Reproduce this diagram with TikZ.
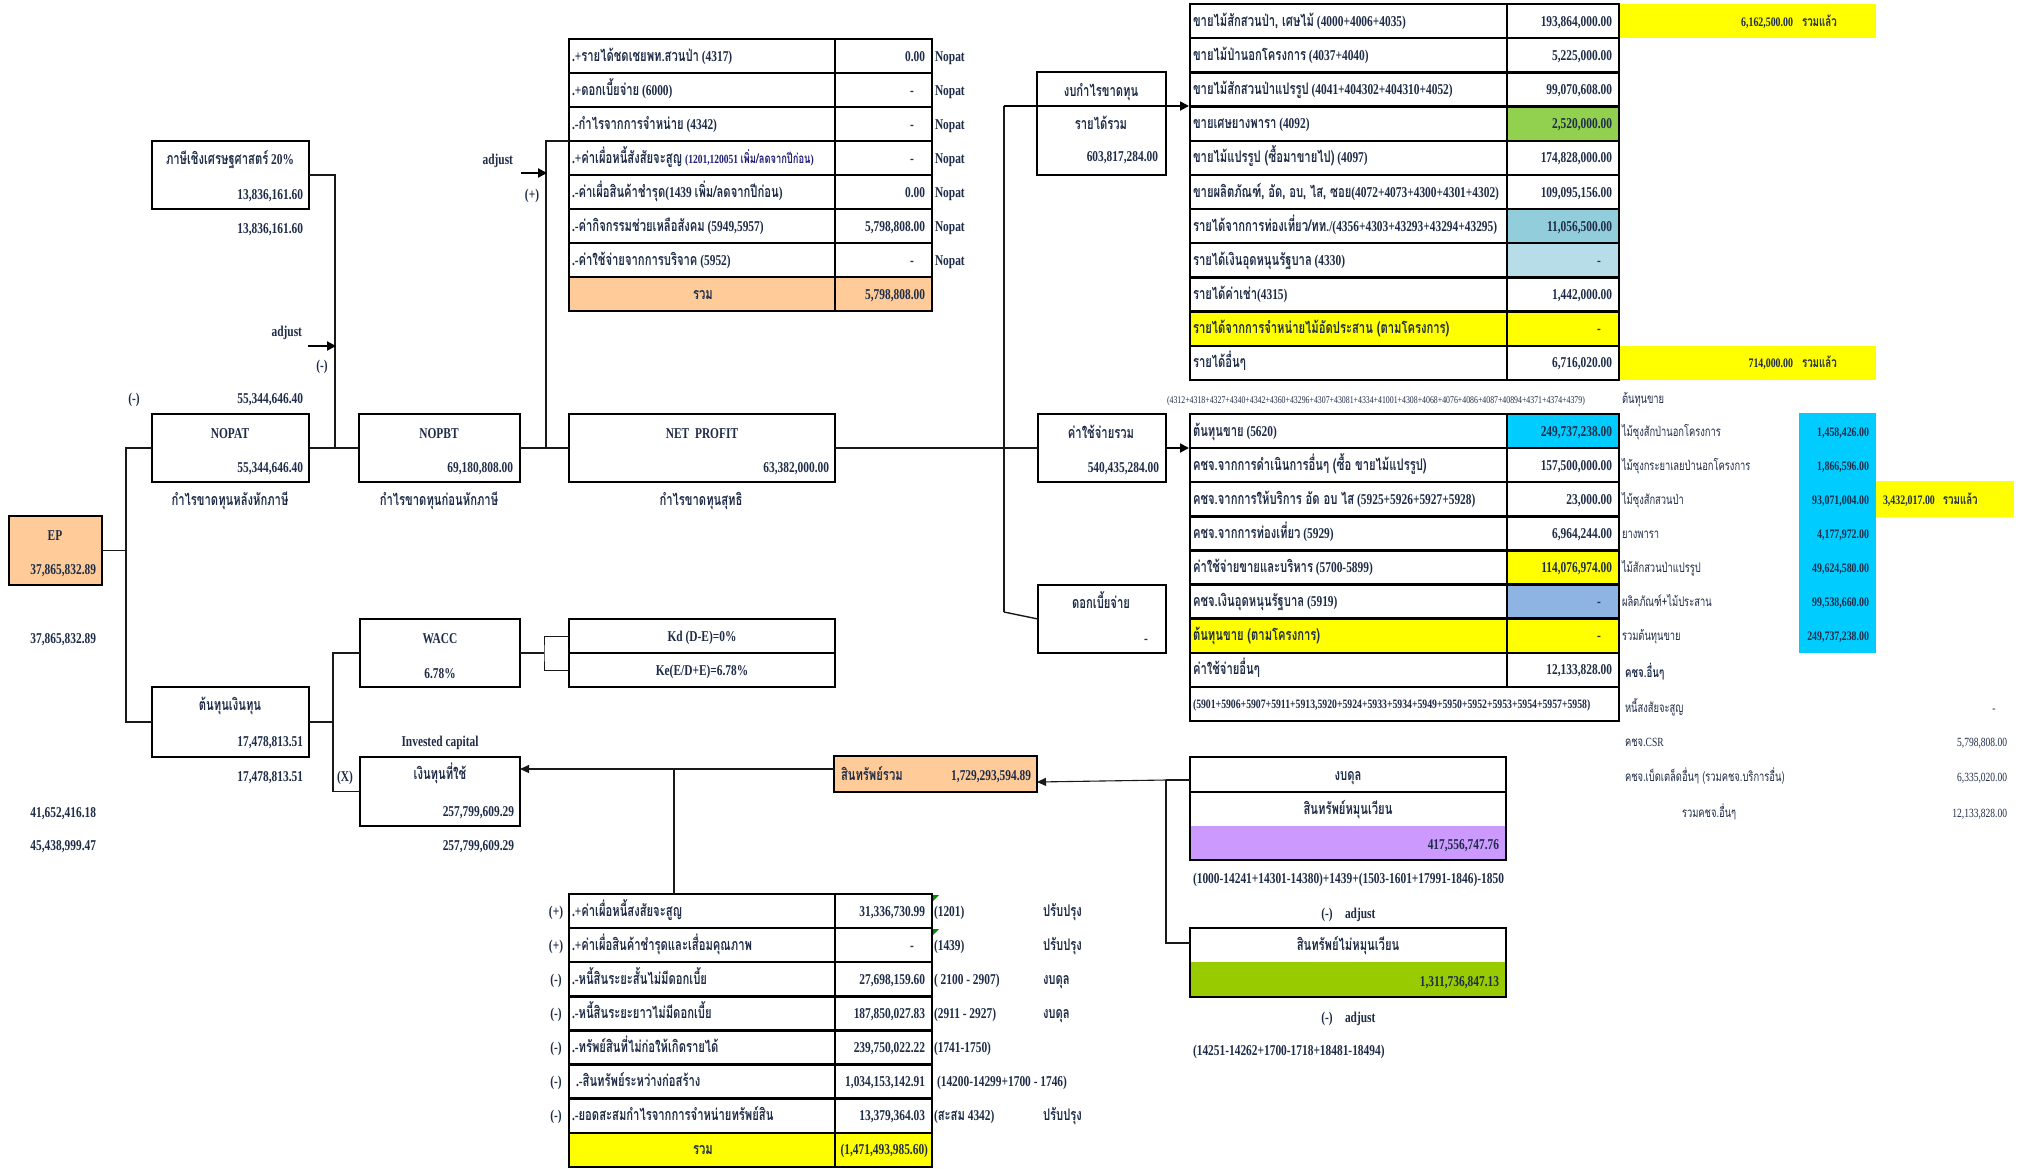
\documentclass[tikz,border=0pt]{standalone}
\usepackage{fontspec}
\setmainfont{Liberation Serif}[FakeStretch=0.76]
\newfontfamily\thaifont{Loma}[Script=Thai,FakeStretch=0.7,Scale=1.07]
\usetikzlibrary{arrows.meta}
\newcommand\T[1]{{\thaifont #1}}
\definecolor{textc}{RGB}{30,44,72}
\definecolor{blueT}{RGB}{30,30,120}
\definecolor{peach}{HTML}{FFCC99}
\definecolor{greenA}{HTML}{92D050}
\definecolor{tealA}{HTML}{92CDDC}
\definecolor{lblueA}{HTML}{B7DEE8}
\definecolor{yel}{HTML}{FFFF00}
\definecolor{cyanA}{HTML}{00CCFF}
\definecolor{bgray}{HTML}{8DB4E2}
\definecolor{purp}{HTML}{CC99FF}
\definecolor{greenB}{HTML}{99CC00}
\begin{document}
\begin{tikzpicture}[x=1pt,y=-1pt,
  every node/.style={inner sep=0pt,outer sep=0pt,text=textc,font=\bfseries\fontsize{15}{18}\selectfont},
  L/.style={anchor=base west}, R/.style={anchor=base east}, C/.style={anchor=base},
  sm/.style={font=\bfseries\fontsize{13}{15}\selectfont},
  rg/.style={font=\fontsize{12.5}{15}\selectfont},
  bx/.style={draw=black,line width=2pt,anchor=north west},
  tb/.style={draw=black,line width=2.4pt},
  cn/.style={draw=black!90,line width=1.4pt},
  ar/.style={cn,-{Triangle[length=9pt,width=8pt]}},
  ar2/.style={draw=black,line width=2.2pt,-{Triangle[length=9pt,width=9pt]}},
]
\useasboundingbox[fill=white] (0,0) rectangle (2031,1168);

% ================= boxes =================
\node[bx,minimum width=157,minimum height=68] (tax) at (152,141) {};
\node[bx,minimum width=157,minimum height=68] (nopat) at (152,414) {};
\node[bx,minimum width=161,minimum height=68] (nopbt) at (359,414) {};
\node[bx,minimum width=266,minimum height=68] (np) at (569,414) {};
\node[bx,minimum width=129,minimum height=103] (rev) at (1037,72) {};
\node[bx,minimum width=128,minimum height=68] (exp) at (1038,414) {};
\node[bx,minimum width=128,minimum height=68] (int) at (1038,585) {};
\node[bx,fill=peach,minimum width=93,minimum height=69] (ep) at (9,516) {};
\node[bx,minimum width=157,minimum height=70] (coc) at (152,687) {};
\node[bx,minimum width=160,minimum height=68] (wacc) at (360,619) {};
\node[bx,minimum width=266,minimum height=34] (kd1) at (569,619) {};
\node[bx,minimum width=266,minimum height=34] (kd2) at (569,653) {};
\node[bx,minimum width=160,minimum height=69] (ic) at (360,757) {};
\node[bx,fill=peach,line width=2.6pt,minimum width=203,minimum height=36] (ta) at (834,756) {};
\fill[purp] (1190,826) rectangle (1506,860);
\node[bx,minimum width=316,minimum height=35] (bs1) at (1190,757) {};
\draw[tb,line width=2pt] (1190,792) -- (1190,860) -- (1506,860) -- (1506,792);
\coordinate (bs2) at (1348,809);
\fill[greenB] (1190,962) rectangle (1506,997);
\draw[tb,line width=2pt] (1190,928) rectangle (1506,997);
\coordinate (nca) at (1348,945);

% ================= table T1 =================
\fill[peach] (569,277) rectangle (932,311);
\draw[tb] (569,39) rectangle (932,311);
\foreach \yy in {73,107,141,175,209,243,277} \draw[tb] (569,\yy) -- (932,\yy);
\draw[tb] (835,39) -- (835,311);

% ================= table T2 =================
\fill[greenA] (1507,106.54) rectangle (1619,140.72);
\fill[tealA] (1507,209.08) rectangle (1619,243.26);
\fill[lblueA] (1507,243.26) rectangle (1619,277.44);
\fill[yel] (1190,311.62) rectangle (1619,345.8);
\fill[yel] (1619,4) rectangle (1876,38.18);
\fill[yel] (1619,345.8) rectangle (1876,379.98);
\draw[tb] (1190,4) rectangle (1619,379.98);
\foreach \k in {1,...,10} \draw[tb] (1190,{4+\k*34.18}) -- (1619,{4+\k*34.18});
\draw[tb] (1507,4) -- (1507,379.98);

% ================= table T3 =================
\fill[cyanA] (1507,414) rectangle (1619,448.1);
\fill[yel] (1507,550.4) rectangle (1619,584.5);
\fill[bgray] (1507,584.5) rectangle (1619,618.6);
\fill[yel] (1190,618.6) rectangle (1619,652.7);
\fill[cyanA] (1799,413) rectangle (1876,653);
\fill[yel] (1876,481) rectangle (2014,517);
\draw[tb] (1190,414) rectangle (1619,720.9);
\foreach \k in {1,...,8} \draw[tb] (1190,{414+\k*34.1}) -- (1619,{414+\k*34.1});
\draw[tb] (1507,414) -- (1507,686.8);

% ================= table T4 =================
\fill[yel] (569,1132.7) rectangle (932,1166.8);
\draw[tb] (569,894) rectangle (932,1166.8);
\foreach \k in {1,...,7} \draw[tb] (569,{894+\k*34.1}) -- (932,{894+\k*34.1});
\draw[tb] (835,894) -- (835,1166.8);
\fill[green!55!black] (933,895) -- (939,895) -- (933,901) -- cycle;
\fill[green!55!black] (933,929) -- (939,929) -- (933,935) -- cycle;

% ================= connectors =================
\coordinate (j1) at (335,448);
\draw[cn] (tax.east) -| (j1);
\draw[cn] (nopat.east) -- (nopbt.west);
\coordinate (adjA) at (308,346);
\coordinate (adjB) at (336,346);
\draw[ar2] (adjA) -- (adjB);
\coordinate (j2) at (546,448);
\coordinate (t1in) at (569,141);
\draw[cn] (nopbt.east) -- (np.west);
\draw[cn] (j2) |- (t1in);
\coordinate (adjC) at (521,173);
\coordinate (adjD) at (547,173);
\draw[ar2] (adjC) -- (adjD);
\coordinate (v1top) at (1004,106);
\coordinate (v1bot) at (1004,612);
\coordinate (t2in) at (1189,106);
\coordinate (t3in) at (1189,448);
\draw[cn] (np.east) -- (exp.west);
\draw[cn] (v1top) -- (v1bot);
\draw[cn] (v1bot) -- (int.west);
\draw[ar2,line width=1.8pt] (v1top) -- (t2in);
\draw[ar2,line width=1.8pt] (exp.east) -- (t3in);
\coordinate (j3b) at (126,722);
\draw[cn] (nopat.west) -| (j3b) -- (coc.west);
\draw[cn] (ep.east) -- (ep.east -| j3b);
\coordinate (j4) at (333,722);
\draw[cn] (coc.east) -- (j4);
\draw[cn] (wacc.west) -| (j4) |- (ic.west);
\coordinate (j5) at (544,653);
\draw[cn] (wacc.east) -- (j5);
\draw[cn,line width=1pt] (kd1.west) -| (j5) |- (kd2.west);
\coordinate (j6) at (1166,780);
\coordinate (bsL) at (1190,780);
\coordinate (taR) at (1037,782);
\coordinate (ncaL) at (1190,943);
\draw[cn,line width=1.1pt] (bsL) -- (j6);
\draw[ar,line width=1.1pt] (j6) -- (taR);
\draw[cn,line width=1.1pt] (j6) |- (ncaL);
\coordinate (taL) at (834,769);
\coordinate (icR) at (520,769);
\coordinate (j7) at (674,769);
\coordinate (t4top) at (674,894);
\draw[ar,line width=1.1pt] (taL) -- (icR);
\draw[cn,line width=1.1pt] (j7) -- (t4top);

% ================= left texts =================
\node[C] (taxT) at (230,164) {\T{ภาษีเชิงเศรษฐศาสตร์} 20\%};
\node[R] (taxV) at (303,199) {13,836,161.60};
\node[R] (taxV2) at (303,233) {13,836,161.60};
\node[R] (adj1) at (302,336) {adjust};
\node[C] (mn1) at (322,370) {(-)};
\node[C] (mn2) at (134,403) {(-)};
\node[R] (nopatV0) at (303,403) {55,344,646.40};
\node[C] (nopatT) at (230,438) {NOPAT};
\node[R] (nopatV) at (303,472) {55,344,646.40};
\node[C] (nopatC) at (230,505) {\T{กำไรขาดทุนหลังหักภาษี}};
\node[C] (nopbtT) at (439,438) {NOPBT};
\node[R] (nopbtV) at (513,472) {69,180,808.00};
\node[C] (nopbtC) at (439,505) {\T{กำไรขาดทุนก่อนหักภาษี}};
\node[C] (npT) at (702,438) {NET\ \ PROFIT};
\node[R] (npV) at (829,472) {63,382,000.00};
\node[C] (npC) at (701,505) {\T{กำไรขาดทุนสุทธิ}};
\node[R] (adj2) at (513,164) {adjust};
\node[C] (pl1) at (532,199) {(+)};
\node[C] (revT) at (1101,96) {\T{งบกำไรขาดทุน}};
\node[C] (revT2) at (1101,129) {\T{รายได้รวม}};
\node[R] (revV) at (1158,161) {603,817,284.00};
\node[C] (expT) at (1101,438) {\T{ค่าใช้จ่ายรวม}};
\node[R] (expV) at (1159,472) {540,435,284.00};
\node[C] (intT) at (1101,608) {\T{ดอกเบี้ยจ่าย}};
\node[C] (intV) at (1146,643) {-};
\node[C] (epT) at (55,540) {EP};
\node[R] (epV) at (96,574) {37,865,832.89};
\node[R] (epV2) at (96,643) {37,865,832.89};
\node[R] (n41) at (96,817) {41,652,416.18};
\node[R] (n45) at (96,850) {45,438,999.47};
\node[C] (cocT) at (230,710) {\T{ต้นทุนเงินทุน}};
\node[R] (cocV) at (303,746) {17,478,813.51};
\node[R] (cocV2) at (303,781) {17,478,813.51};
\node[C] (waccT) at (440,643) {WACC};
\node[C] (waccV) at (440,678) {6.78\%};
\node[C] (invT) at (440,746) {Invested capital};
\node[C] (icT) at (440,779) {\T{เงินทุนที่ใช้}};
\node[R] (icV) at (514,816) {257,799,609.29};
\node[R] (icV2) at (514,850) {257,799,609.29};
\node[C] (xx) at (345,781) {(X)};
\node[C] (kdT) at (702,641) {Kd (D-E)=0\%};
\node[C] (keT) at (702,675) {Ke(E/D+E)=6.78\%};
\node[L] (taT) at (841,780) {\T{สินทรัพย์รวม}};
\node[R] (taV) at (1031,780) {1,729,293,594.89};
\node[C] (bsT) at (1348,780) {\T{งบดุล}};
\node[C] (caT) at (1348,814) {\T{สินทรัพย์หมุนเวียน}};
\node[R] (caV) at (1499,849) {417,556,747.76};
\node[L] (caF) at (1193,883) {(1000-14241+14301-14380)+1439+(1503-1601+17991-1846)-1850};
\node[C] (mn3) at (1327,918) {(-)};
\node[L] (adj3) at (1345,918) {adjust};
\node[C] (ncaT) at (1348,950) {\T{สินทรัพย์ไม่หมุนเวียน}};
\node[R] (ncaV) at (1499,986) {1,311,736,847.13};
\node[C] (mn4) at (1327,1022) {(-)};
\node[L] (adj4) at (1345,1022) {adjust};
\node[L] (ncaF) at (1193,1055) {(14251-14262+1700-1718+18481-18494)};

% ================= T1 texts =================
\node[L] (a1) at (572,61) {.+\T{รายได้ชดเชยพท.สวนป่า} (4317)};
\node[L] (a2) at (572,95) {.+\T{ดอกเบี้ยจ่าย} (6000)};
\node[L] (a3) at (572,129) {.-\T{กำไรจากการจำหน่าย} (4342)};
\node[L] (a4) at (572,163) {.+\T{ค่าเผื่อหนี้สังสัยจะสูญ} {\color{blueT}\fontsize{12.5}{14}\selectfont (1201,120051 \T{เพิ่ม/ลดจากปีก่อน})}};
\node[L] (a5) at (572,197) {.-\T{ค่าเผื่อสินค้าชำรุด}(1439 \T{เพิ่ม/ลดจากปีก่อน})};
\node[L] (a6) at (572,231) {.-\T{ค่ากิจกรรมช่วยเหลือสังคม} (5949,5957)};
\node[L] (a7) at (572,265) {.-\T{ค่าใช้จ่ายจากการบริจาค} (5952)};
\node[C] (a8) at (703,299) {\T{รวม}};
\node[R] (b1) at (925,61) {0.00};
\node[C] (b2) at (912,95) {-};
\node[C] (b3) at (912,129) {-};
\node[C] (b4) at (912,163) {-};
\node[R] (b5) at (925,197) {0.00};
\node[R] (b6) at (925,231) {5,798,808.00};
\node[C] (b7) at (912,265) {-};
\node[R] (b8) at (925,299) {5,798,808.00};
\node[L] (c1) at (935,61) {Nopat};
\node[L] (c2) at (935,95) {Nopat};
\node[L] (c3) at (935,129) {Nopat};
\node[L] (c4) at (935,163) {Nopat};
\node[L] (c5) at (935,197) {Nopat};
\node[L] (c6) at (935,231) {Nopat};
\node[L] (c7) at (935,265) {Nopat};

% ================= T2 texts =================
\node[L] (d1) at (1193,26.1) {\T{ขายไม้สักสวนป่า, เศษไม้} (4000+4006+4035)};
\node[L] (d2) at (1193,60.3) {\T{ขายไม้ป่านอกโครงการ} (4037+4040)};
\node[L] (d3) at (1193,94.5) {\T{ขายไม้สักสวนป่าแปรรูป} (4041+404302+404310+4052)};
\node[L] (d4) at (1193,128.6) {\T{ขายเศษยางพารา} (4092)};
\node[L] (d5) at (1193,162.8) {\T{ขายไม้แปรรูป (ซื้อมาขายไป)} (4097)};
\node[L] (d6) at (1193,197.0) {\T{ขายผลิตภัณฑ์, อัด, อบ, ไส, ซอย}(4072+4073+4300+4301+4302)};
\node[L] (d7) at (1193,231.2) {\T{รายได้จากการท่องเที่ยว/ทท.}/(4356+4303+43293+43294+43295)};
\node[L] (d8) at (1193,265.4) {\T{รายได้เงินอุดหนุนรัฐบาล} (4330)};
\node[L] (d9) at (1193,299.5) {\T{รายได้ค่าเช่า}(4315)};
\node[L] (d10) at (1193,333.7) {\T{รายได้จากการจำหน่ายไม้อัดประสาน (ตามโครงการ)}};
\node[L] (d11) at (1193,367.9) {\T{รายได้อื่นๆ}};
\node[R] (e1) at (1612,26.1) {193,864,000.00};
\node[R] (e2) at (1612,60.3) {5,225,000.00};
\node[R] (e3) at (1612,94.5) {99,070,608.00};
\node[R] (e4) at (1612,128.6) {2,520,000.00};
\node[R] (e5) at (1612,162.8) {174,828,000.00};
\node[R] (e6) at (1612,197.0) {109,095,156.00};
\node[R] (e7) at (1612,231.2) {11,056,500.00};
\node[C] (e8) at (1599,265.4) {-};
\node[R] (e9) at (1612,299.5) {1,442,000.00};
\node[C] (e10) at (1599,333.7) {-};
\node[R] (e11) at (1612,367.9) {6,716,020.00};
\node[R,sm] (f1) at (1793,26.1) {6,162,500.00};
\node[L,sm] (f1b) at (1802,26.1) {\T{รวมแล้ว}};
\node[R,sm] (f2) at (1793,367.9) {714,000.00};
\node[L,sm] (f2b) at (1802,367.9) {\T{รวมแล้ว}};

% ================= T3 texts =================
\node[L,font=\fontsize{10.3}{12}\selectfont] (g0) at (1167,403) {(4312+4318+4327+4340+4342+4360+43296+4307+43081+4334+41001+4308+4068+4076+4086+4087+40894+4371+4374+4379)};
\node[L,rg] (g0b) at (1622,403) {\T{ต้นทุนขาย}};
\node[L] (h1) at (1193,436.1) {\T{ต้นทุนขาย} (5620)};
\node[L] (h2) at (1193,470.2) {\T{คชจ.จากการดำเนินการอื่นๆ (ซื้อ ขายไม้แปรรูป)}};
\node[L] (h3) at (1193,504.3) {\T{คชจ.จากการให้บริการ อัด อบ ไส} (5925+5926+5927+5928)};
\node[L] (h4) at (1193,538.4) {\T{คชจ.จากการท่องเที่ยว} (5929)};
\node[L] (h5) at (1193,572.5) {\T{ค่าใช้จ่ายขายและบริหาร} (5700-5899)};
\node[L] (h6) at (1193,606.6) {\T{คชจ.เงินอุดหนุนรัฐบาล} (5919)};
\node[L] (h7) at (1193,640.7) {\T{ต้นทุนขาย (ตามโครงการ)}};
\node[L] (h8) at (1193,674.8) {\T{ค่าใช้จ่ายอื่นๆ}};
\node[L,font=\bfseries\fontsize{12.8}{15}\selectfont] (h9) at (1193,708.9) {(5901+5906+5907+5911+5913,5920+5924+5933+5934+5949+5950+5952+5953+5954+5957+5958)};
\node[R] (k1) at (1612,436.1) {249,737,238.00};
\node[R] (k2) at (1612,470.2) {157,500,000.00};
\node[R] (k3) at (1612,504.3) {23,000.00};
\node[R] (k4) at (1612,538.4) {6,964,244.00};
\node[R] (k5) at (1612,572.5) {114,076,974.00};
\node[C] (k6) at (1599,606.6) {-};
\node[C] (k7) at (1599,640.7) {-};
\node[R] (k8) at (1612,674.8) {12,133,828.00};
\node[L,rg] (m1) at (1622,436.1) {\T{ไม้ซุงสักป่านอกโครงการ}};
\node[L,rg] (m2) at (1622,470.2) {\T{ไม้ซุงกระยาเลยป่านอกโครงการ}};
\node[L,rg] (m3) at (1622,504.3) {\T{ไม้ซุงสักสวนป่า}};
\node[L,rg] (m4) at (1622,538.4) {\T{ยางพารา}};
\node[L,rg] (m5) at (1622,572.5) {\T{ไม้สักสวนป่าแปรรูป}};
\node[L,rg] (m6) at (1622,606.6) {\T{ผลิตภัณฑ์+ไม้ประสาน}};
\node[L,rg] (m7) at (1622,640.7) {\T{รวมต้นทุนขาย}};
\node[R,sm] (n1) at (1869,436.1) {1,458,426.00};
\node[R,sm] (n2) at (1869,470.2) {1,866,596.00};
\node[R,sm] (n3) at (1869,504.3) {93,071,004.00};
\node[R,sm] (n4) at (1869,538.4) {4,177,972.00};
\node[R,sm] (n5) at (1869,572.5) {49,624,580.00};
\node[R,sm] (n6) at (1869,606.6) {99,538,660.00};
\node[R,sm] (n7) at (1869,640.7) {249,737,238.00};
\node[L,sm] (n3b) at (1883,504.3) {3,432,017.00\hspace{8pt}\T{รวมแล้ว}};
\node[L,sm] (p1) at (1625,677) {\T{คชจ.อื่นๆ}};
\node[L,rg] (p2) at (1625,712) {\T{หนี้สงสัยจะสูญ}};
\node[C,rg] (p2v) at (1994,712) {-};
\node[L,rg] (p3) at (1625,746) {\T{คชจ.}CSR};
\node[R,rg] (p3v) at (2007,746) {5,798,808.00};
\node[L,rg] (p4) at (1625,781) {\T{คชจ.เบ็ดเตล็ดอื่นๆ (รวมคชจ.บริการอื่น)}};
\node[R,rg] (p4v) at (2007,781) {6,335,020.00};
\node[L,rg] (p5) at (1682,817) {\T{รวมคชจ.อื่นๆ}};
\node[R,rg] (p5v) at (2007,817) {12,133,828.00};

% ================= T4 texts =================
\node[C] (q1) at (556,916.1) {(+)};
\node[C] (q2) at (556,950.2) {(+)};
\node[C] (q3) at (556,984.3) {(-)};
\node[C] (q4) at (556,1018.4) {(-)};
\node[C] (q5) at (556,1052.5) {(-)};
\node[C] (q6) at (556,1086.6) {(-)};
\node[C] (q7) at (556,1120.7) {(-)};
\node[L] (r1) at (572,916.1) {.+\T{ค่าเผื่อหนี้สงสัยจะสูญ}};
\node[L] (r2) at (572,950.2) {.+\T{ค่าเผื่อสินค้าชำรุดและเสื่อมคุณภาพ}};
\node[L] (r3) at (572,984.3) {.-\T{หนี้สินระยะสั้นไม่มีดอกเบี้ย}};
\node[L] (r4) at (572,1018.4) {.-\T{หนี้สินระยะยาวไม่มีดอกเบี้ย}};
\node[L] (r5) at (572,1052.5) {.-\T{ทรัพย์สินที่ไม่ก่อให้เกิดรายได้}};
\node[L] (r6) at (576,1086.6) {.-\T{สินทรัพย์ระหว่างก่อสร้าง}};
\node[L] (r7) at (572,1120.7) {.-\T{ยอดสะสมกำไรจากการจำหน่ายทรัพย์สิน}};
\node[C] (r8) at (703,1154.8) {\T{รวม}};
\node[R] (s1) at (925,916.1) {31,336,730.99};
\node[C] (s2) at (912,950.2) {-};
\node[R] (s3) at (925,984.3) {27,698,159.60};
\node[R] (s4) at (925,1018.4) {187,850,027.83};
\node[R] (s5) at (925,1052.5) {239,750,022.22};
\node[R] (s6) at (925,1086.6) {1,034,153,142.91};
\node[R] (s7) at (925,1120.7) {13,379,364.03};
\node[R] (s8) at (928,1154.8) {(1,471,493,985.60)};
\node[L] (u1) at (934,916.1) {(1201)};
\node[L] (u2) at (934,950.2) {(1439)};
\node[L] (u3) at (934,984.3) {( 2100 - 2907)};
\node[L] (u4) at (934,1018.4) {(2911 - 2927)};
\node[L] (u5) at (934,1052.5) {(1741-1750)};
\node[L] (u6) at (937,1086.6) {(14200-14299+1700 - 1746)};
\node[L] (u7) at (934,1120.7) {(\T{สะสม} 4342)};
\node[L] (w1) at (1043,916.1) {\T{ปรับปรุง}};
\node[L] (w2) at (1043,950.2) {\T{ปรับปรุง}};
\node[L] (w3) at (1043,984.3) {\T{งบดุล}};
\node[L] (w4) at (1043,1018.4) {\T{งบดุล}};
\node[L] (w7) at (1043,1120.7) {\T{ปรับปรุง}};
\end{tikzpicture}
\end{document}
